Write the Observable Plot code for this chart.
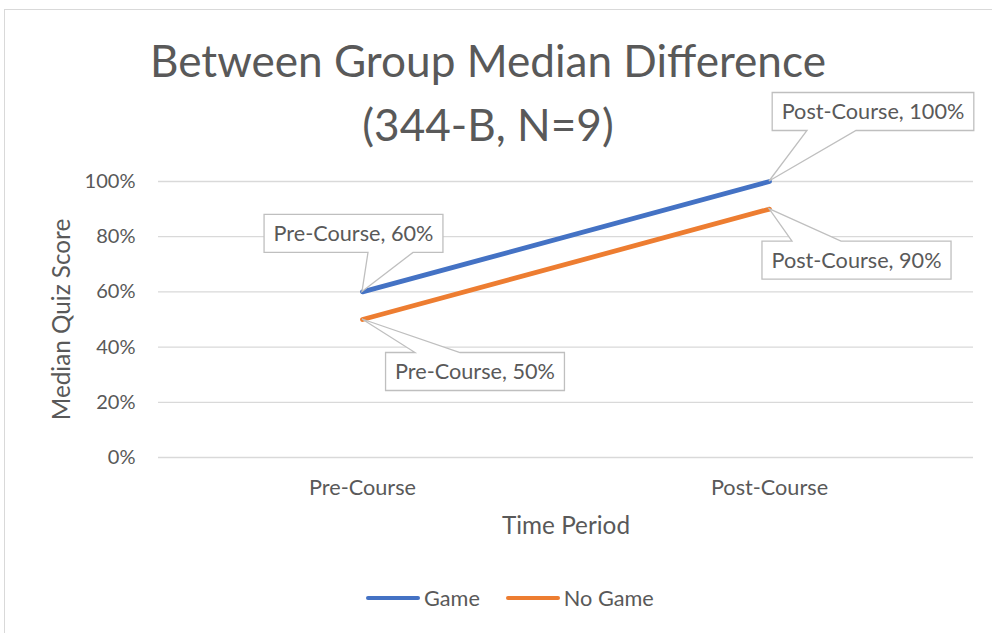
<!DOCTYPE html>
<html>
<head>
<meta charset="utf-8">
<script src="https://cdn.jsdelivr.net/npm/d3@7"></script>
<script src="https://cdn.jsdelivr.net/npm/@observablehq/plot@0.6"></script>
<style>
html, body { margin: 0; padding: 0; background: #fff; overflow: hidden; }
#wrap { position: relative; width: 992px; height: 633px; overflow: hidden; font-family: Lato, "Noto Sans", sans-serif; color: #595959; }
#frame { position: absolute; left: 4px; top: 9px; width: 1100px; height: 800px; border: 1.5px solid #d9d9d9; box-sizing: border-box; }
.tline { position: absolute; left: 0; width: 976px; text-align: center; white-space: nowrap; }
#chart { position: absolute; left: 0; top: 150px; }
#legend { position: absolute; top: 586px; left: 366px; height: 24px; display: flex; align-items: center; white-space: nowrap; }
.sw { width: 54px; height: 4.5px; border-radius: 3px; margin-right: 4px; }
.li { display: flex; align-items: center; margin-right: 26px; }
</style>
</head>
<body>
<div id="wrap">
  <div id="frame"></div>
  <div id="title"></div>
  <div id="chart"></div>
  <div id="legend"></div>
</div>
<script>
// ---- data ----
const periods = ["Pre-Course", "Post-Course"];
const seriesNames = ["Game", "No Game"];
const gameValues = [60, 100];
const noGameValues = [50, 90];
const yTicks = [0, 20, 40, 60, 80, 100];
const titleLines = ["Between Group Median Difference", "(344-B, N=9)"];
const xLabel = "Time Period";
const yLabel = "Median Quiz Score";

// ---- style ----
const seriesColors = ["#4472C4", "#ED7D31"];
const FONT = 'Lato, "Noto Sans", sans-serif';
const TEXT = "#595959";

const data = [
  ...periods.map((p, i) => ({series: seriesNames[0], period: p, value: gameValues[i]})),
  ...periods.map((p, i) => ({series: seriesNames[1], period: p, value: noGameValues[i]}))
];

const ctx = document.createElement("canvas").getContext("2d");
function widthAt(text, size) { ctx.font = `${size}px ${FONT}`; return ctx.measureText(text).width; }
function fit(text, w) { return 100 * w / widthAt(text, 100); }

const fsTitle = fit(titleLines[0], 676);
const fsTick = fit("100%", 51);
const fsCat = fit("Pre-Course", 107);
const fsAxis = fit(xLabel, 128);
const fsCallout = fit("Pre-Course, 60%", 160);
const fsLegend = fit("No Game", 90);

// ---- title ----
const titleEl = document.getElementById("title");
[77, 141].forEach((baseline, i) => {
  const d = document.createElement("div");
  d.className = "tline";
  d.textContent = titleLines[i];
  d.style.fontSize = fsTitle + "px";
  d.style.lineHeight = fsTitle + "px";
  d.style.top = (baseline - 0.887 * fsTitle) + "px";
  titleEl.appendChild(d);
});

// ---- plot ----
const plot = Plot.plot({
  width: 992,
  height: 410,
  marginTop: 31,
  marginBottom: 103,
  marginLeft: 158,
  marginRight: 19,
  style: {fontFamily: FONT, color: TEXT, background: "transparent", overflow: "visible"},
  x: {type: "point", domain: periods, padding: 0.5},
  y: {domain: [0, 100]},
  color: {domain: seriesNames, range: seriesColors},
  marks: [
    Plot.gridY(yTicks, {stroke: "#d9d9d9", strokeOpacity: 1, strokeWidth: 1.3}),
    Plot.axisY(yTicks, {tickSize: 0, tickPadding: 23, tickFormat: d => d + "%", fontSize: fsTick, label: null, fill: TEXT}),
    Plot.axisX({tickSize: 0, tickPadding: 22, fontSize: fsCat, label: null, fill: TEXT}),
    Plot.text([xLabel], {frameAnchor: "bottom", dy: 69, lineAnchor: "middle", textAnchor: "middle", text: d => d, fontSize: fsAxis, fill: TEXT}),
    Plot.text([yLabel], {frameAnchor: "left", dx: -96, rotate: -90, lineAnchor: "middle", textAnchor: "middle", text: d => d, fontSize: fsAxis, fill: TEXT}),
    Plot.line(data, {x: "period", y: "value", stroke: "series", strokeWidth: 4.8, strokeLinecap: "round", strokeLinejoin: "round"})
  ]
});
document.getElementById("chart").appendChild(plot);

// ---- callouts (data labels) ----
const sx = plot.scale("x"), sy = plot.scale("y");
const X = sx.apply ? v => sx.apply(v) : d3.scalePoint(sx.domain, sx.range).padding(0.5);
const Y = sy.apply ? v => sy.apply(v) : d3.scaleLinear(sy.domain, sy.range);
// style: offsets of box centre from the point, wedge side and wedge base offsets
const calloutStyle = {
  "Game|Pre-Course":     {dx: -8.5, dy: -58,   side: "bottom", base: [6, 51]},
  "Game|Post-Course":    {dx: 104,  dy: -69.5, side: "bottom", base: [38, 87]},
  "No Game|Pre-Course":  {dx: 113,  dy: 52.5,  side: "top",    base: [53, 98]},
  "No Game|Post-Course": {dx: 87.5, dy: 51.5,  side: "top",    base: [23, 72]}
};
const svg = d3.select(plot.tagName === "svg" ? plot : plot.querySelector("svg"));
const g = svg.append("g");
const boxH = 38;
data.forEach(d => {
  const st = calloutStyle[d.series + "|" + d.period];
  const px = X(d.period), py = Y(d.value);
  const label = `${d.period}, ${d.value}%`;
  const w = widthAt(label, fsCallout) + 19;
  const cx = px + st.dx, cy = py + st.dy;
  const x0 = cx - w / 2, x1 = cx + w / 2, y0 = cy - boxH / 2, y1 = cy + boxH / 2;
  const b1 = px + st.base[0], b2 = px + st.base[1];
  let p;
  if (st.side === "bottom") {
    p = `M${x0},${y0}H${x1}V${y1}H${b2}L${px},${py}L${b1},${y1}H${x0}Z`;
  } else {
    p = `M${x0},${y0}H${b1}L${px},${py}L${b2},${y0}H${x1}V${y1}H${x0}Z`;
  }
  g.append("path").attr("d", p).attr("fill", "#fff").attr("stroke", "#bfbfbf").attr("stroke-width", 1.3).attr("stroke-linejoin", "miter");
  g.append("text").attr("x", cx).attr("y", cy).attr("dy", "0.35em").attr("text-anchor", "middle")
    .attr("font-size", fsCallout).attr("fill", TEXT).attr("font-family", FONT).text(label);
});

// ---- legend ----
const leg = document.getElementById("legend");
seriesNames.forEach((n, i) => {
  const it = document.createElement("div");
  it.className = "li";
  const sw = document.createElement("div");
  sw.className = "sw";
  sw.style.background = seriesColors[i];
  const t = document.createElement("span");
  t.textContent = n;
  t.style.fontSize = fsLegend + "px";
  it.appendChild(sw); it.appendChild(t);
  leg.appendChild(it);
});
</script>
</body>
</html>
